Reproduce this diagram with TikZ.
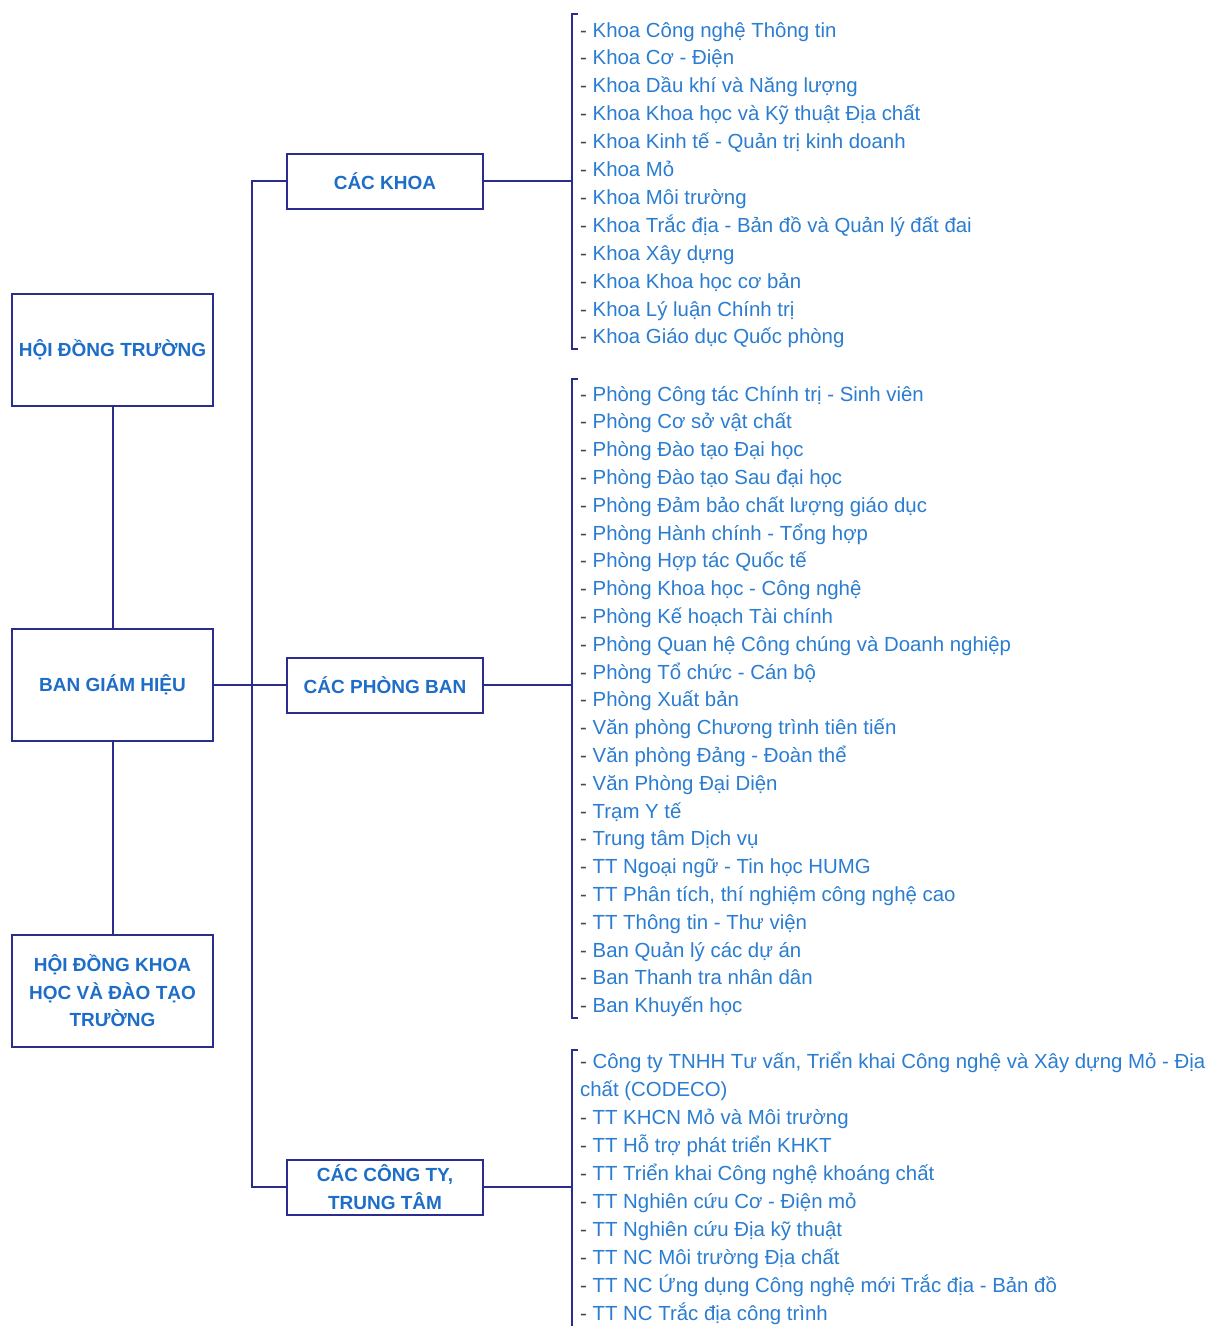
\documentclass[tikz,border=0pt]{standalone}
\usepackage{fontspec}
\setmainfont{Liberation Sans}
\definecolor{navy}{RGB}{43,45,142}
\definecolor{itemblue}{RGB}{42,125,209}
\definecolor{titleblue}{RGB}{30,110,200}
\definecolor{dashgray}{RGB}{70,70,80}
\tikzset{
  unitbox/.style={draw=navy, line width=2pt, fill=white, align=center,
    font=\fontsize{19}{27.5}\selectfont\bfseries, text=titleblue, inner sep=0pt},
  bigbox/.style={unitbox, minimum width=201pt, minimum height=112pt},
  midbox/.style={unitbox, minimum width=196pt, minimum height=55pt},
  link/.style={draw=navy, line width=2pt},
  item/.style={anchor=base west, inner sep=0pt, text=itemblue,
    font=\fontsize{20.4}{28}\selectfont}
}
\newcommand{\dsh}{{\color{dashgray}-} }
\begin{document}
\begin{tikzpicture}[x=1pt,y=-1pt]
\useasboundingbox (0,0) rectangle (1211,1326);
\fill[white] (0,0) rectangle (1211,1326);

% left column
\node[bigbox] (hdt) at (112.5,350) {HỘI ĐỒNG TRƯỜNG};
\node[bigbox] (bgh) at (112.5,685) {BAN GIÁM HIỆU};
\node[bigbox] (hdkh) at (112.5,991) {HỘI ĐỒNG KHOA\\HỌC VÀ ĐÀO TẠO\\TRƯỜNG};

% middle column
\node[midbox] (khoa) at (385,181) {CÁC KHOA};
\node[midbox] (pb) at (385,685) {CÁC PHÒNG BAN};
\node[midbox] (ct) at (385,1187) {CÁC CÔNG TY,\\TRUNG TÂM};

% bracket joints
\coordinate (j1) at (572,181);
\coordinate (j2) at (572,685);
\coordinate (j3) at (572,1187);

% connectors
\draw[link] (hdt.south) -- (bgh.north);
\draw[link] (bgh.south) -- (hdkh.north);
\draw[link] (bgh.east) -- (pb.west);
\draw[link] (khoa.west) -- ++(-34,0) |- (ct.west);
\draw[link] (khoa.east) -- (j1);
\draw[link] (pb.east) -- (j2);
\draw[link] (ct.east) -- (j3);

% brackets
\draw[link] (578,14) -- (572,14) -- (572,349) -- (578,349);
\draw[link] (578,379) -- (572,379) -- (572,1018) -- (578,1018);
\draw[link] (578,1050) -- (572,1050) -- (572,1330);

% faculties
\foreach \t [count=\i] in {
  Khoa Công nghệ Thông tin,
  Khoa Cơ - Điện,
  Khoa Dầu khí và Năng lượng,
  Khoa Khoa học và Kỹ thuật Địa chất,
  Khoa Kinh tế - Quản trị kinh doanh,
  Khoa Mỏ,
  Khoa Môi trường,
  Khoa Trắc địa - Bản đồ và Quản lý đất đai,
  Khoa Xây dựng,
  Khoa Khoa học cơ bản,
  Khoa Lý luận Chính trị,
  Khoa Giáo dục Quốc phòng}
  \node[item] (k\i) at (580,{37+27.9*(\i-1)}) {\dsh\t};

% offices
\foreach \t [count=\i] in {
  Phòng Công tác Chính trị - Sinh viên,
  Phòng Cơ sở vật chất,
  Phòng Đào tạo Đại học,
  Phòng Đào tạo Sau đại học,
  Phòng Đảm bảo chất lượng giáo dục,
  Phòng Hành chính - Tổng hợp,
  Phòng Hợp tác Quốc tế,
  Phòng Khoa học - Công nghệ,
  Phòng Kế hoạch Tài chính,
  Phòng Quan hệ Công chúng và Doanh nghiệp,
  Phòng Tổ chức - Cán bộ,
  Phòng Xuất bản,
  Văn phòng Chương trình tiên tiến,
  Văn phòng Đảng - Đoàn thể,
  Văn Phòng Đại Diện,
  Trạm Y tế,
  Trung tâm Dịch vụ,
  TT Ngoại ngữ - Tin học HUMG,
  {TT Phân tích, thí nghiệm công nghệ cao},
  TT Thông tin - Thư viện,
  Ban Quản lý các dự án,
  Ban Thanh tra nhân dân,
  Ban Khuyến học}
  \node[item] (p\i) at (580,{401+27.8*(\i-1)}) {\dsh\t};

% companies and centres
\node[item] (c0) at (580,1068) {\dsh Công ty TNHH Tư vấn, Triển khai Công nghệ và Xây dựng Mỏ - Địa};
\node[item] (c0b) at (580,1096) {chất (CODECO)};
\foreach \t [count=\i] in {
  TT KHCN Mỏ và Môi trường,
  TT Hỗ trợ phát triển KHKT,
  TT Triển khai Công nghệ khoáng chất,
  TT Nghiên cứu Cơ - Điện mỏ,
  TT Nghiên cứu Địa kỹ thuật,
  TT NC Môi trường Địa chất,
  TT NC Ứng dụng Công nghệ mới Trắc địa - Bản đồ,
  TT NC Trắc địa công trình}
  \node[item] (c\i) at (580,{1124+28*(\i-1)}) {\dsh\t};
\end{tikzpicture}
\end{document}
